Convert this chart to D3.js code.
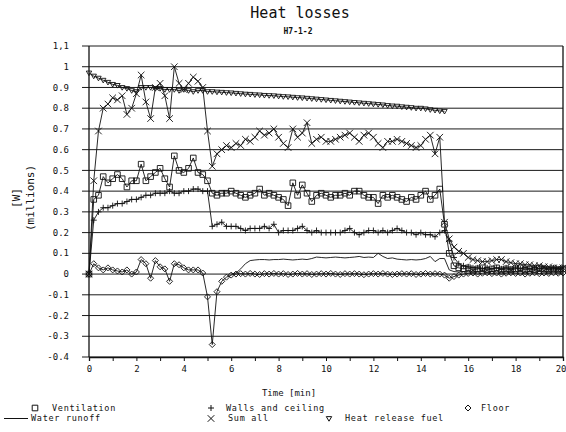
<!DOCTYPE html>
<html>
<head>
<meta charset="utf-8">
<script src="https://cdn.jsdelivr.net/npm/d3@7"></script>
<style>
  body { margin: 0; background: #fff; }
  text { font-family: "DejaVu Sans Mono", monospace; fill: #111; }
</style>
</head>
<body>
<script>
// sampling grid: one reading every 0.2 min
const times = d3.range(101).map(i => +(i * 0.2).toFixed(1));

const ventilation = [
  0.0, 0.36, 0.38, 0.47, 0.44, 0.46, 0.48, 0.46, 0.42, 0.45,
  0.45, 0.53, 0.45, 0.47, 0.49, 0.51, 0.46, 0.42, 0.57, 0.50,
  0.49, 0.51, 0.56, 0.49, 0.48, 0.45, 0.39, 0.38, 0.39, 0.39,
  0.40, 0.39, 0.38, 0.37, 0.38, 0.39, 0.41, 0.38, 0.39, 0.38,
  0.37, 0.36, 0.33, 0.44, 0.38, 0.43, 0.39, 0.35, 0.38, 0.39,
  0.38, 0.37, 0.38, 0.38, 0.39, 0.38, 0.40, 0.40, 0.38, 0.37,
  0.37, 0.34, 0.38, 0.37, 0.38, 0.37, 0.36, 0.35, 0.37, 0.36,
  0.38, 0.40, 0.36, 0.38, 0.41, 0.24, 0.10, 0.04, 0.03, 0.025,
  0.03, 0.02, 0.025, 0.03, 0.02, 0.025, 0.03, 0.02, 0.025, 0.02,
  0.025, 0.03, 0.02, 0.025, 0.02, 0.03, 0.025, 0.02, 0.025, 0.02,
  0.025
];

const walls = [
  0.0, 0.26, 0.30, 0.32, 0.32, 0.33, 0.34, 0.34, 0.35, 0.36,
  0.36, 0.37, 0.38, 0.38, 0.39, 0.39, 0.39, 0.40, 0.39, 0.39,
  0.40, 0.40, 0.41, 0.41, 0.40, 0.40, 0.23, 0.24, 0.25, 0.23,
  0.23, 0.23, 0.22, 0.21, 0.22, 0.22, 0.22, 0.23, 0.22, 0.24,
  0.20, 0.21, 0.21, 0.21, 0.22, 0.23, 0.21, 0.20, 0.21, 0.20,
  0.20, 0.20, 0.20, 0.20, 0.21, 0.22, 0.20, 0.19, 0.20, 0.21,
  0.21, 0.20, 0.21, 0.20, 0.21, 0.22, 0.21, 0.20, 0.20, 0.19,
  0.20, 0.19, 0.19, 0.18, 0.20, 0.21, 0.16, 0.08, 0.05, 0.04,
  0.035, 0.03, 0.03, 0.025, 0.03, 0.025, 0.03, 0.025, 0.03, 0.025,
  0.03, 0.025, 0.03, 0.025, 0.03, 0.025, 0.03, 0.025, 0.03, 0.025,
  0.03
];

const floor = [
  0.0, 0.05, 0.03, 0.02, 0.03, 0.02, 0.015, 0.01, 0.02, 0.0,
  0.01, 0.07, 0.05, -0.02, 0.065, 0.035, 0.025, -0.035, 0.05, 0.045,
  0.03, 0.02, 0.02, 0.02, 0.005, -0.11, -0.34, -0.085, -0.035, -0.015,
  -0.005, 0.0, 0.002, 0.0, 0.003, 0.0, -0.002, 0.002, 0.0, 0.003,
  0.0, 0.002, -0.002, 0.0, 0.003, 0.0, 0.002, -0.002, 0.0, 0.002,
  0.0, 0.003, 0.0, -0.002, 0.002, 0.0, 0.002, 0.0, -0.003, 0.0,
  0.002, 0.0, 0.003, 0.0, -0.002, 0.0, 0.002, 0.0, 0.002, -0.002,
  0.0, 0.003, 0.0, 0.002, 0.0, -0.005, -0.02, -0.012, -0.005, 0.0,
  0.003, 0.005, 0.0, 0.004, 0.006, 0.002, 0.005, 0.0, 0.004, 0.006,
  0.003, 0.005, 0.0, 0.004, 0.006, 0.002, 0.005, 0.003, 0.006, 0.004,
  0.005
];

const waterRunoff = [
  null, null, null, null, null, null, null, null, null, null,
  null, null, null, null, null, null, null, null, null, null,
  null, null, null, null, null, null, null, null, null, null,
  0.0, 0.005, 0.025, 0.05, 0.065, 0.068, 0.07, 0.07, 0.068, 0.07,
  0.07, 0.072, 0.07, 0.068, 0.07, 0.072, 0.07, 0.075, 0.082, 0.08,
  0.078, 0.08, 0.082, 0.08, 0.078, 0.08, 0.082, 0.085, 0.08, 0.082,
  0.08, 0.10, 0.085, 0.075, 0.078, 0.072, 0.07, 0.068, 0.07, 0.068,
  0.07, 0.075, 0.085, 0.06, 0.075, 0.075, 0.02, 0.012, 0.01, 0.012,
  0.01, 0.012, 0.01, 0.012, 0.01, 0.012, 0.01, 0.012, 0.01, 0.012,
  0.01, 0.012, 0.01, 0.012, 0.01, 0.012, 0.01, 0.012, 0.01, 0.012,
  0.01
];

const sumAll = [
  0.0, 0.45, 0.69, 0.80, 0.82, 0.85, 0.84, 0.86, 0.77, 0.80,
  0.87, 0.96, 0.83, 0.75, 0.90, 0.92, 0.86, 0.75, 1.00, 0.92,
  0.89, 0.92, 0.95, 0.93, 0.90, 0.69, 0.52, 0.58, 0.60, 0.62,
  0.61, 0.63, 0.62, 0.65, 0.64, 0.66, 0.69, 0.67, 0.68, 0.70,
  0.66, 0.63, 0.61, 0.70, 0.66, 0.68, 0.73, 0.63, 0.65, 0.66,
  0.64, 0.64, 0.65, 0.66, 0.67, 0.68, 0.66, 0.64, 0.67, 0.68,
  0.66, 0.63, 0.61, 0.64, 0.64, 0.65, 0.64, 0.63, 0.62, 0.61,
  0.62, 0.65, 0.67, 0.58, 0.66, 0.25, 0.17, 0.13, 0.11, 0.10,
  0.08, 0.07, 0.065, 0.06, 0.06, 0.065, 0.07, 0.07, 0.06, 0.055,
  0.05, 0.05, 0.045, 0.045, 0.04, 0.04, 0.035, 0.035, 0.03, 0.03,
  0.03
];

// fuel heat release is only logged up to 15 min
const heatReleaseFuel = [
  0.97, 0.955, 0.945, 0.935, 0.925, 0.915, 0.91, 0.90, 0.895, 0.885,
  0.88, 0.90, 0.90, 0.90, 0.895, 0.895, 0.89, 0.89, 0.89, 0.885,
  0.89, 0.885, 0.88, 0.885, 0.885, 0.88, 0.88, 0.878, 0.877, 0.875,
  0.874, 0.872, 0.870, 0.868, 0.867, 0.865, 0.864, 0.862, 0.861, 0.86,
  0.858, 0.856, 0.855, 0.853, 0.851, 0.85, 0.848, 0.846, 0.844, 0.842,
  0.84, 0.838, 0.836, 0.834, 0.832, 0.83, 0.828, 0.826, 0.824, 0.822,
  0.82, 0.818, 0.816, 0.813, 0.811, 0.81, 0.807, 0.805, 0.803, 0.80,
  0.80, 0.797, 0.793, 0.79, 0.787, 0.785
];

const yTicks = [1.1, 1, 0.9, 0.8, 0.7, 0.6, 0.5, 0.4, 0.3, 0.2, 0.1, 0, -0.1, -0.2, -0.3, -0.4];
const yTickLabels = ['1,1', '1', '0.9', '0.8', '0.7', '0.6', '0.5', '0.4', '0.3', '0.2', '0.1', '0', '-0.1', '-0.2', '-0.3', '-0.4'];
const xTicks = [0, 2, 4, 6, 8, 10, 12, 14, 16, 18, 20];

const box = { width: 566, height: 432, left: 89, right: 563, top: 46, bottom: 357 };

const svg = d3.select('body').append('svg')
  .attr('width', box.width)
  .attr('height', box.height);

const x = d3.scaleLinear().domain([0, 20]).range([box.left, box.right]);
const y = d3.scaleLinear().domain([-0.4, 1.1]).range([box.bottom, box.top]);

// marker shapes, r = half size
const shapes = {
  square: r => `M${-r},${-r}h${2 * r}v${2 * r}h${-2 * r}Z`,
  plus: r => `M${-r},0H${r}M0,${-r}V${r}`,
  diamond: r => `M0,${-r}L${r},0L0,${r}L${-r},0Z`,
  cross: r => `M${-r},${-r}L${r},${r}M${-r},${r}L${r},${-r}`,
  triDown: r => `M${-r},${-r * 0.7}L${r},${-r * 0.7}L0,${r}Z`
};

const series = [
  { name: 'Ventilation', values: ventilation, shape: 'square', r: 2.8 },
  { name: 'Walls and ceiling', values: walls, shape: 'plus', r: 3 },
  { name: 'Floor', values: floor, shape: 'diamond', r: 3 },
  { name: 'Water runoff', values: waterRunoff, shape: null },
  { name: 'Sum all', values: sumAll, shape: 'cross', r: 3.3 },
  { name: 'Heat release fuel', values: heatReleaseFuel, shape: 'triDown', r: 2.7 }
];

// title
svg.append('text')
  .attr('x', 300).attr('y', 18)
  .attr('text-anchor', 'middle')
  .style('font-size', '15px')
  .text('Heat losses');

svg.append('text')
  .attr('x', 298).attr('y', 34)
  .attr('text-anchor', 'middle')
  .style('font-size', '8px')
  .style('font-weight', 'bold')
  .text('H7-1-2');

// horizontal grid
svg.append('g')
  .selectAll('line')
  .data(yTicks)
  .join('line')
  .attr('x1', box.left - 7)
  .attr('x2', box.right)
  .attr('y1', d => y(d))
  .attr('y2', d => y(d))
  .attr('stroke', '#1a1a1a')
  .attr('stroke-width', 1);

// y tick labels
svg.append('g')
  .selectAll('text')
  .data(yTicks)
  .join('text')
  .attr('x', 69)
  .attr('y', d => y(d))
  .attr('dy', '0.35em')
  .attr('text-anchor', 'end')
  .style('font-size', '9px')
  .text((d, i) => yTickLabels[i]);

// frame sides
svg.append('line')
  .attr('x1', box.left).attr('x2', box.left)
  .attr('y1', box.top).attr('y2', box.bottom)
  .attr('stroke', '#111').attr('stroke-width', 1.3);
svg.append('line')
  .attr('x1', box.right).attr('x2', box.right)
  .attr('y1', box.top).attr('y2', box.bottom)
  .attr('stroke', '#111').attr('stroke-width', 1.3);

// x axis
const xAxis = d3.axisBottom(x)
  .tickValues(d3.range(0, 21, 1))
  .tickSize(4)
  .tickFormat(d => xTicks.includes(d) ? d : '');

const gx = svg.append('g')
  .attr('transform', `translate(0,${box.bottom})`)
  .call(xAxis);
gx.select('.domain').attr('stroke', '#111').attr('stroke-width', 1.3);
gx.selectAll('.tick line').attr('stroke', '#111');
gx.selectAll('.tick text')
  .attr('y', 9)
  .style('font-size', '9px')
  .style('font-family', '"DejaVu Sans Mono", monospace')
  .attr('fill', '#111');
// last label sits against the right edge
gx.selectAll('.tick text')
  .filter(d => d === 20)
  .attr('text-anchor', 'end')
  .attr('x', 3);

svg.append('text')
  .attr('x', 289).attr('y', 396)
  .attr('text-anchor', 'middle')
  .style('font-size', '9px')
  .text('Time [min]');

// y label
const yl = svg.append('text')
  .attr('transform', 'translate(20,198) rotate(-90)')
  .attr('text-anchor', 'middle')
  .style('font-size', '11px');
yl.append('tspan').attr('x', 0).attr('dy', 0).text('[W]');
yl.append('tspan').attr('x', 0).attr('dy', 14).text('(millions)');

// series
const plot = svg.append('g');

series.forEach(s => {
  const pts = s.values.map((v, i) => [times[i], v]).filter(p => p[1] !== null);
  const line = d3.line().x(p => x(p[0])).y(p => y(p[1]));
  plot.append('path')
    .datum(pts)
    .attr('d', line)
    .attr('fill', 'none')
    .attr('stroke', '#111')
    .attr('stroke-width', 0.9);
  if (s.shape) {
    plot.append('g')
      .selectAll('path')
      .data(pts)
      .join('path')
      .attr('transform', p => `translate(${x(p[0])},${y(p[1])})`)
      .attr('d', shapes[s.shape](s.r))
      .attr('fill', 'none')
      .attr('stroke', '#111')
      .attr('stroke-width', 0.9);
  }
});

// legend
const legendItems = [
  { s: series[0], mx: 35, tx: 52, y: 408 },
  { s: series[1], mx: 211, tx: 226, y: 408 },
  { s: series[2], mx: 468, tx: 481, y: 408 },
  { s: series[3], mx: 16, tx: 31, y: 418.5 },
  { s: series[4], mx: 211, tx: 228, y: 418.5 },
  { s: series[5], mx: 329, tx: 345, y: 418.5 }
];

const legend = svg.append('g');
legendItems.forEach(it => {
  if (it.s.shape) {
    legend.append('path')
      .attr('transform', `translate(${it.mx},${it.y})`)
      .attr('d', shapes[it.s.shape](it.s.r))
      .attr('fill', 'none')
      .attr('stroke', '#111')
      .attr('stroke-width', 1);
  } else {
    legend.append('line')
      .attr('x1', 4).attr('x2', 28)
      .attr('y1', it.y).attr('y2', it.y)
      .attr('stroke', '#111');
  }
  legend.append('text')
    .attr('x', it.tx).attr('y', it.y)
    .attr('dy', '0.35em')
    .style('font-size', '8.5px')
    .style('letter-spacing', '0.7px')
    .text(it.s.name);
});
</script>
</body>
</html>
